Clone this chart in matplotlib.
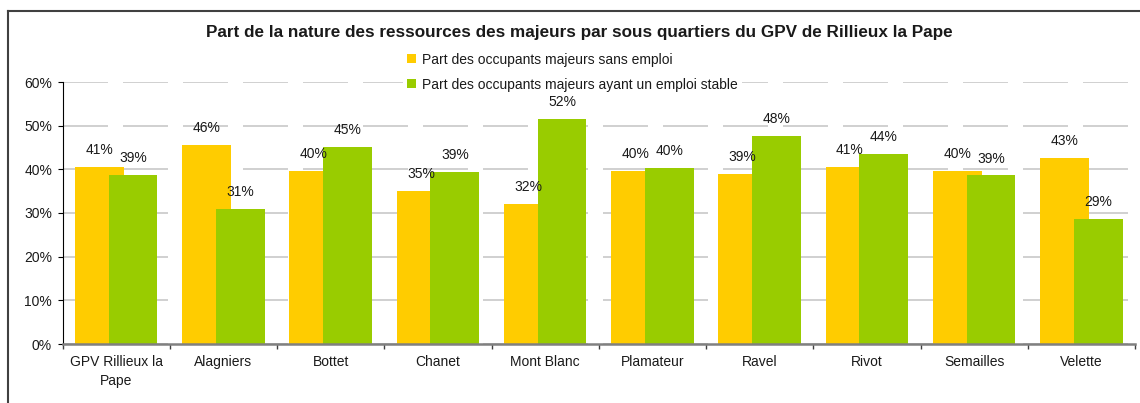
import matplotlib
matplotlib.use("Agg")
import matplotlib.pyplot as plt
from matplotlib.patches import Patch
from matplotlib.lines import Line2D
import numpy as np

plt.rcParams['font.family'] = ['Liberation Sans', 'DejaVu Sans']

categories = ["GPV Rillieux la\nPape", "Alagniers", "Bottet", "Chanet", "Mont Blanc",
              "Plamateur", "Ravel", "Rivot", "Semailles", "Velette"]
sans_emploi = [40.6, 45.5, 39.6, 35.1, 32.0, 39.6, 39.0, 40.6, 39.6, 42.6]
emploi_stable = [38.7, 31.0, 45.2, 39.3, 51.5, 40.4, 47.6, 43.6, 38.6, 28.6]
series_names = ["Part des occupants majeurs sans emploi",
                "Part des occupants majeurs ayant un emploi stable"]
title = "Part de la nature des ressources des majeurs par sous quartiers du GPV de Rillieux la Pape"
yticks = [0, 10, 20, 30, 40, 50, 60]

YELLOW = "#FFCC00"
GREEN = "#99CC00"
TXT = "#1a1a1a"

W, H = 1140, 403
fig = plt.figure(figsize=(W / 100, H / 100), dpi=100)
fig.patch.set_facecolor("white")

# outer chart frame
fig.add_artist(Line2D([8 / W, 8 / W], [0, 1 - 11 / H], transform=fig.transFigure,
                      color="#404040", lw=1.5))
fig.add_artist(Line2D([8 / W, 1], [1 - 11 / H, 1 - 11 / H], transform=fig.transFigure,
                      color="#404040", lw=1.5))

ax = fig.add_axes([62.5 / W, 1 - 344 / H, (1135 - 62.5) / W, (344 - 82) / H])
ax.set_xlim(0, len(categories))
ax.set_ylim(0, 60)

x = np.arange(len(categories)) + 0.5
bw = 0.455
off = 0.158
ax.bar(x - off, sans_emploi, width=bw, color=YELLOW, zorder=2, label=series_names[0])
ax.bar(x + off, emploi_stable, width=bw, color=GREEN, zorder=3, label=series_names[1])

for xs, vals in ((x - off, sans_emploi), (x + off, emploi_stable)):
    for xi, v in zip(xs, vals):
        ax.annotate(f"{round(v):d}%", (xi, v), xytext=(0, 12.2), textcoords="offset points",
                    ha="center", va="center", fontsize=10, color=TXT, zorder=5)

ax.set_yticks(yticks)
ax.set_yticklabels([f"{t}%" for t in yticks])
ax.set_xticks(np.arange(len(categories) + 1))
ax.set_xticklabels([])
ax.set_xticks(x, minor=True)
ax.set_xticklabels(categories, minor=True, fontsize=10, color=TXT, linespacing=1.45)
ax.tick_params(axis="x", which="minor", length=0, pad=8)
ax.tick_params(axis="x", which="major", length=3.5, width=1, color="#404040", direction="out")
ax.tick_params(axis="y", length=3.5, width=0.8, pad=4, labelsize=10, labelcolor=TXT)

ax.yaxis.grid(True, color="#C8C8C8", linewidth=1.2, linestyle=(0, (27, 9)), zorder=0)
ax.set_axisbelow(True)
for s in ("top", "right"):
    ax.spines[s].set_visible(False)
ax.spines["left"].set_color("#000000")
ax.spines["left"].set_linewidth(0.8)
ax.spines["bottom"].set_color("#808080")
ax.spines["bottom"].set_linewidth(1.8)
ax.spines["bottom"].set_zorder(4)

fig.text(579 / W, 1 - 33 / H, title, ha="center", va="center", fontsize=12.3,
         fontweight="bold", color=TXT)

handles = [Patch(facecolor=YELLOW, edgecolor="none"), Patch(facecolor=GREEN, edgecolor="none")]
leg = fig.legend(handles, series_names, loc="upper left",
                 bbox_to_anchor=(403 / W, 1 - 48.5 / H), frameon=True, fontsize=10,
                 handlelength=0.6, handleheight=0.6, handletextpad=0.45,
                 labelspacing=0.8, borderpad=0.3, borderaxespad=0)
leg.get_frame().set_facecolor("white")
leg.get_frame().set_edgecolor("none")
leg.get_frame().set_alpha(1)
leg.set_zorder(10)
for t in leg.get_texts():
    t.set_color(TXT)

fig.savefig("out.png", dpi=100)
